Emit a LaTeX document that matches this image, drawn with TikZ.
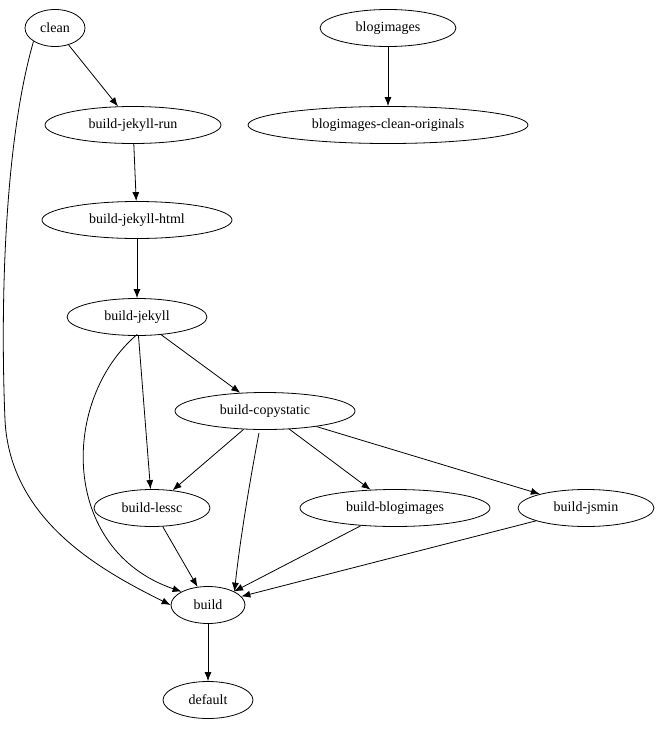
\documentclass[tikz,border=0pt]{standalone}
\usepackage{fontspec}
\setmainfont{Liberation Serif}
\usetikzlibrary{shapes.geometric,arrows.meta}
\begin{document}
\begin{tikzpicture}[x=1pt,y=-1pt,
  n/.style={ellipse,draw,thick,inner sep=0pt,minimum height=37pt,font=\fontsize{14}{16}\selectfont},
  e/.style={-{Latex[length=9pt,width=7pt]},thick}]
\useasboundingbox (0,0) rectangle (660,731);
\node[n,minimum width=60] (clean) at (55,28) {clean};
\node[n,minimum width=136] (bi) at (388,28) {blogimages};
\node[n,minimum width=176] (bjr) at (133,125) {build-jekyll-run};
\node[n,minimum width=280] (bco) at (388,125) {blogimages-clean-originals};
\node[n,minimum width=190] (bjh) at (137,220) {build-jekyll-html};
\node[n,minimum width=140] (bj) at (137,317) {build-jekyll};
\node[n,minimum width=180] (bc) at (265,411) {build-copystatic};
\node[n,minimum width=116] (bl) at (152,508) {build-lessc};
\node[n,minimum width=190] (bb) at (395,508) {build-blogimages};
\node[n,minimum width=136] (bjs) at (586,508) {build-jsmin};
\node[n,minimum width=74] (b) at (208,605) {build};
\node[n,minimum width=90] (d) at (208,700) {default};
\draw[e] (clean) -- (bjr);
\draw[e] (clean.south west) .. controls (5,140) and (0,300) .. (5,420) .. controls (10,520) and (100,570) .. (b.west);
\draw[e] (bi) -- (bco);
\draw[e] (bjr) -- (bjh);
\draw[e] (bjh) -- (bj);
\draw[e] (bj) -- (bc);
\draw[e] (bj) -- (bl);
\draw[e] (bj.south west) ++(50,4) .. controls (60,400) and (60,550) .. (b.north west);
\draw[e] (bc) -- (bl);
\draw[e] (bc.south) ++(-6,3) .. controls (250,480) and (240,540) .. (b.north east);
\draw[e] (bc) -- (bb);
\draw[e] (bc) -- (bjs);
\draw[e] (bl) -- (b);
\draw[e] (bb) -- (b);
\draw[e] (bjs) -- (b);
\draw[e] (b) -- (d);
\end{tikzpicture}
\end{document}
